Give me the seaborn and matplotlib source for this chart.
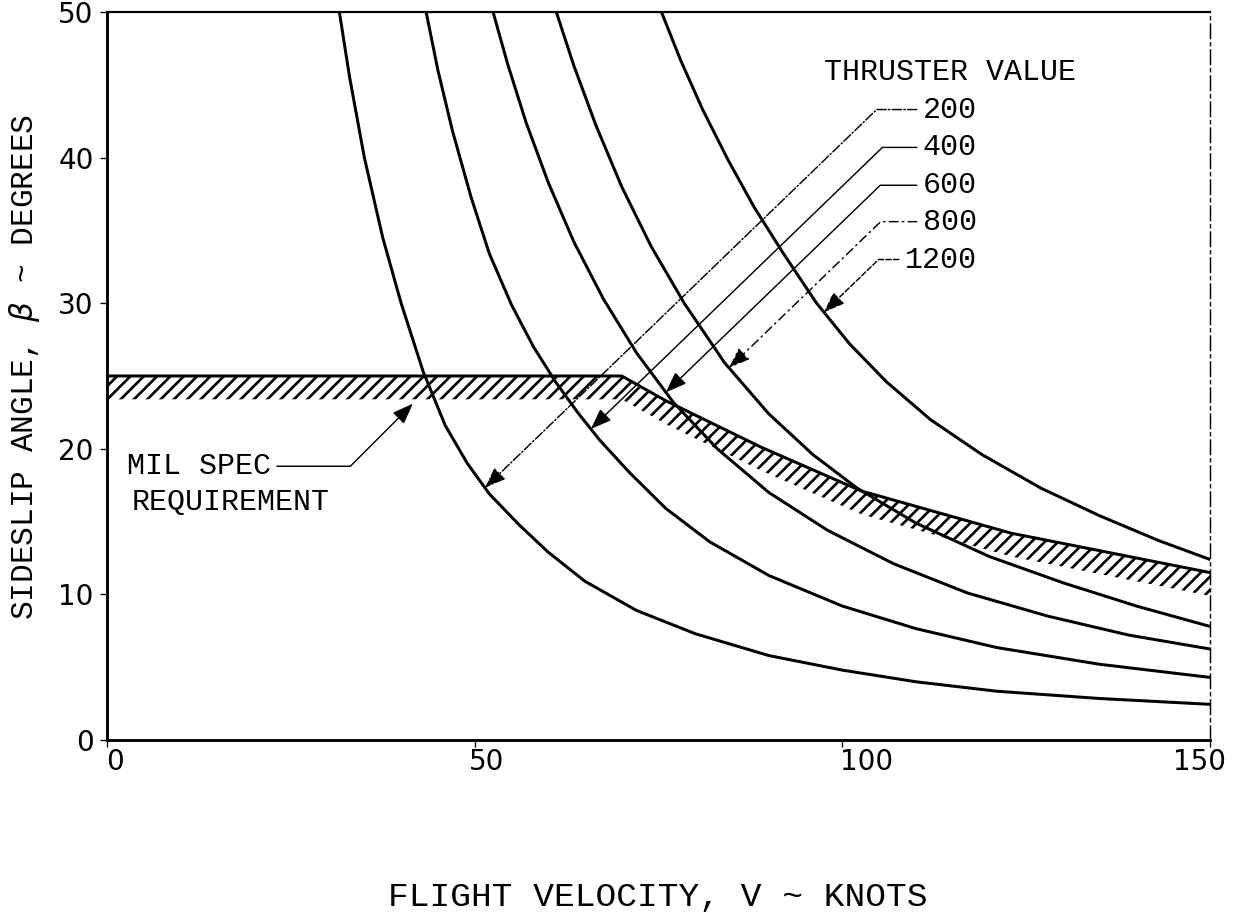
import numpy as np
import pandas as pd
import matplotlib.pyplot as plt
import matplotlib.transforms as mtransforms
import seaborn as sns

# Thruster value curves: flight velocity (knots) vs sideslip angle (deg)
THRUST_LABELS = ['200', '400', '600', '800', '1200']

V_200 = [31.6, 33.0, 35.0, 37.5, 40.0, 43.0, 46.0, 49.0, 52.0, 56.0, 60.0, 65.0, 72.0, 80.0,
         90.0, 100.0, 110.0, 121.0, 135.0, 150.0]
B_200 = [50.0, 45.5, 40.0, 34.5, 30.0, 25.3, 21.6, 19.0, 16.9, 14.8, 12.9, 10.9, 8.9, 7.3,
         5.8, 4.8, 4.0, 3.35, 2.85, 2.45]

V_400 = [43.4, 45.0, 47.0, 49.5, 52.0, 55.0, 58.0, 61.0, 64.0, 67.0, 71.0, 76.0, 82.0, 90.0,
         100.0, 110.0, 121.0, 135.0, 150.0]
B_400 = [50.0, 46.0, 41.8, 37.3, 33.4, 29.9, 27.0, 24.6, 22.5, 20.6, 18.4, 15.9, 13.6, 11.3,
         9.2, 7.65, 6.35, 5.2, 4.3]

V_600 = [52.5, 54.5, 57.0, 60.0, 63.5, 67.5, 72.0, 77.0, 83.0, 90.0, 98.0, 107.0, 117.0,
         128.0, 139.0, 150.0]
B_600 = [50.0, 46.4, 42.4, 38.3, 34.2, 30.3, 26.6, 23.2, 20.0, 17.0, 14.4, 12.1, 10.1,
         8.5, 7.2, 6.25]

V_800 = [61.1, 63.5, 66.5, 70.0, 74.0, 78.5, 84.0, 90.0, 96.0, 102.0, 110.0, 120.0, 130.0,
         140.0, 150.0]
B_800 = [50.0, 46.3, 42.2, 38.0, 33.9, 30.0, 25.9, 22.4, 19.6, 17.3, 14.9, 12.6, 10.8,
         9.2, 7.8]

V_1200 = [75.4, 78.0, 81.0, 84.5, 88.0, 92.0, 96.5, 101.0, 106.0, 112.0, 119.0, 127.0,
          135.0, 143.0, 150.0]
B_1200 = [50.0, 46.7, 43.3, 39.8, 36.6, 33.4, 30.0, 27.2, 24.6, 22.0, 19.6, 17.3,
          15.4, 13.7, 12.4]

# MIL spec requirement boundary
SPEC_V = [0.0, 70.0, 76.0, 89.0, 102.6, 123.0, 150.0]
SPEC_BETA = [25.0, 25.0, 23.3, 20.1, 17.1, 14.2, 11.5]
SPEC_DEPTH = 1.6

# where each leader arrow meets its curve, and the label heights
ARROW_V = [51.4, 65.8, 76.0, 84.6, 97.5]
LABEL_BETA = [43.3, 40.7, 38.1, 35.6, 33.0]

X_TICKS = [0, 50, 100, 150]
Y_TICKS = [0, 10, 20, 30, 40, 50]

DPI = 80
TEXT_FONT = ['Liberation Mono', 'DejaVu Sans Mono']


def build_frame():
    frames = []
    for lab, v, b in zip(THRUST_LABELS, [V_200, V_400, V_600, V_800, V_1200],
                         [B_200, B_400, B_600, B_800, B_1200]):
        frames.append(pd.DataFrame({'V': v, 'beta': b, 'thrust': lab}))
    return pd.concat(frames, ignore_index=True)


def main():
    df = build_frame()

    sns.set_theme(style='ticks')
    plt.rcParams['font.family'] = TEXT_FONT
    plt.rcParams['hatch.linewidth'] = 2.4
    plt.rcParams['hatch.color'] = 'black'

    fig = plt.figure(figsize=(1234 / DPI, 921 / DPI), dpi=DPI)
    ax = fig.add_axes([107 / 1234, 181 / 921, 1103 / 1234, 728 / 921])

    sns.lineplot(data=df, x='V', y='beta', hue='thrust', palette=['black'] * 5,
                 estimator=None, sort=False, linewidth=2.7, legend=False, ax=ax)

    # spec requirement line with hatched band underneath
    spec_b = np.array(SPEC_BETA)
    ax.plot(SPEC_V, spec_b, color='black', linewidth=2.7)
    ax.fill_between(SPEC_V, spec_b - SPEC_DEPTH, spec_b, facecolor='none',
                    edgecolor='black', hatch='//', linewidth=0)

    ax.set_xlim(0, 150)
    ax.set_ylim(0, 50)
    ax.set_xticks(X_TICKS)
    ax.set_yticks(Y_TICKS)

    for side in ['left', 'bottom']:
        ax.spines[side].set_linewidth(2.6)
        ax.spines[side].set_color('black')
    ax.spines['top'].set_linewidth(2.0)
    ax.spines['top'].set_color('black')
    ax.spines['right'].set_linewidth(1.3)
    ax.spines['right'].set_color('black')
    ax.spines['right'].set_linestyle((0, (10, 3, 2, 3)))

    ax.tick_params(axis='both', direction='out', length=6, width=1.2, colors='black',
                   labelsize=25, labelfontfamily='DejaVu Sans')
    ax.tick_params(axis='x', pad=1)
    ax.tick_params(axis='y', pad=6)

    # the typed tick numbers sit a little off their ticks in the original
    for lbl, dx in zip(ax.get_xticklabels(), [8, 12, 24, -10]):
        lbl.set_transform(lbl.get_transform()
                          + mtransforms.ScaledTranslation(dx / DPI, 0, fig.dpi_scale_trans))

    ax.set_xlabel('FLIGHT VELOCITY, V ~ KNOTS', fontsize=31, color='black')
    ax.set_ylabel(r'SIDESLIP ANGLE, $\beta$ ~ DEGREES', fontsize=28, color='black')
    ax.xaxis.set_label_coords(0.4995, -0.195)
    ax.yaxis.set_label_coords(-0.059, 0.512)

    # thruster value labels with leader arrows
    ax.text(114.7, 45.9, 'THRUSTER VALUE', ha='center', va='center', fontsize=27, color='black')
    leader_styles = ['-.', '-', '-', (0, (6, 3, 1, 3)), '--']
    curves = [(V_200, B_200), (V_400, B_400), (V_600, B_600), (V_800, B_800), (V_1200, B_1200)]
    for lab, (v, b), av, ly, ls in zip(THRUST_LABELS, curves, ARROW_V, LABEL_BETA, leader_styles):
        ay = np.interp(av, v, b)
        ax.annotate(lab, xy=(av, ay), xytext=(118.3, ly), ha='right', va='center',
                    fontsize=27, color='black',
                    arrowprops=dict(arrowstyle='-|>,head_length=0.8,head_width=0.3',
                                    mutation_scale=20, color='black', lw=1.3, linestyle=ls,
                                    relpos=(0, 0.5), shrinkA=3, shrinkB=0,
                                    connectionstyle='angle,angleA=0,angleB=44,rad=0'))

    # MIL spec requirement label
    tip_v = 41.6
    tip_b = np.interp(tip_v, SPEC_V, SPEC_BETA) - SPEC_DEPTH - 0.3
    ax.annotate('MIL SPEC', xy=(tip_v, tip_b), xytext=(2.7, 18.8), ha='left', va='center',
                fontsize=27, color='black',
                arrowprops=dict(arrowstyle='-|>,head_length=0.8,head_width=0.3',
                                mutation_scale=20, color='black', lw=1.3,
                                relpos=(1, 0.5), shrinkA=3, shrinkB=0,
                                connectionstyle='angle,angleA=0,angleB=45,rad=0'))
    ax.text(3.4, 16.35, 'REQUIREMENT', ha='left', va='center', fontsize=27, color='black')

    fig.savefig('out.png', dpi=DPI)
    plt.close(fig)


if __name__ == '__main__':
    main()
